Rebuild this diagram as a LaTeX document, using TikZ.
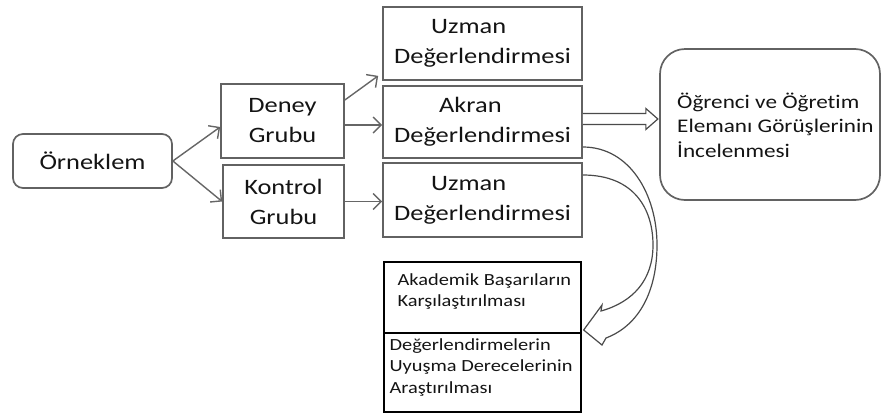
\documentclass[tikz,border=0pt]{standalone}
\usepackage{fontspec}
\setmainfont[FakeStretch=1.2, Ligatures=NoCommon]{Carlito}
\usetikzlibrary{arrows.meta,calc}
\definecolor{boxgray}{HTML}{626262}
\definecolor{arrgray}{HTML}{666666}
\definecolor{curvegray}{HTML}{4A4A4A}
\definecolor{txt}{HTML}{141414}
\begin{document}
\begin{tikzpicture}[x=1pt,y=-1pt,
  box/.style={draw=boxgray, line width=1.7pt, inner sep=0pt, align=center, text=txt,
    font=\fontsize{22}{30}\selectfont},
  lbox/.style={box, align=left},
  thinbox/.style={draw=black, line width=1.3pt, inner sep=0pt},
  smalltext/.style={inner sep=0pt, align=left, text=txt, anchor=north west,
    font=\fontsize{17}{21.5}\selectfont},
  midtext/.style={inner sep=0pt, align=left, text=txt, anchor=west,
    font=\fontsize{19.3}{24.5}\selectfont},
  arr/.style={draw=arrgray, line width=1.4pt, -{Straight Barb[length=8pt,width=16pt,line width=1.4pt]}},
  hollow/.style={draw=curvegray, line width=1.2pt, fill=white, line join=miter}
]
\useasboundingbox (0,0) rectangle (882,416);

% boxes
\node[box, rounded corners=10pt, minimum width=159pt, minimum height=54pt] (orn) at (92.5,161) {Örneklem};
\node[box, minimum width=123pt, minimum height=74pt] (deney) at (282.5,121) {Deney\\Grubu};
\node[box, minimum width=121pt, minimum height=73pt] (kontrol) at (283.5,201.5) {Kontrol\\Grubu};
\node[lbox, minimum width=199pt, minimum height=73pt] (uz1) at (482.5,43.5) {\hspace*{37pt}Uzman\\Değerlendirmesi};
\node[lbox, minimum width=199pt, minimum height=72pt] (akran) at (482.5,122) {\hspace*{45pt}Akran\\Değerlendirmesi};
\node[lbox, minimum width=199pt, minimum height=74pt] (uz2) at (482.5,200) {\hspace*{37pt}Uzman\\Değerlendirmesi};
\node[box, rounded corners=25pt, minimum width=220pt, minimum height=151pt] (ogr) at (770,124.5) {};
\node[midtext] (ogrtext) at (677,125) {Öğrenci ve Öğretim\\Elemanı Görüşlerinin\\İncelenmesi};

\node[thinbox, minimum width=197pt, minimum height=71pt] (bot1) at (482.5,297.5) {};
\node[thinbox, minimum width=197pt, minimum height=79pt] (bot2) at (482.5,372.5) {};
\node[smalltext] (bot1text) at ($(bot1.north west)+(14,12)$) {Akademik Başarıların\\Karşılaştırılması};
\node[smalltext] (bot2text) at ($(bot2.north west)+(6,6)$) {Değerlendirmelerin\\Uyuşma Derecelerinin\\Araştırılması};

% arrows
\draw[arr] (orn.east) -- ($(deney.west)+(0,6)$);
\draw[arr] (orn.east) -- (kontrol.west);
\draw[arr] ($(deney.east)+(0,-21)$) -- ($(uz1.south west)+(-4,-5)$);
\draw[arr] ($(deney.east)+(0,4)$) -- ($(akran.west)+(0,3)$);
\draw[arr] (kontrol.east) -- (kontrol.east -| uz2.west);

% hollow straight arrow
\coordinate (hs) at ($(akran.east)+(0,-3)$);
\draw[hollow] ($(hs)+(0,-5.5)$) -- ($(hs)+(63,-5.5)$) -- ($(hs)+(63,-10.5)$) -- ($(hs)+(75,0)$)
  -- ($(hs)+(63,10.5)$) -- ($(hs)+(63,5.5)$) -- ($(hs)+(0,5.5)$);

% hollow curved arrow
\coordinate (ci) at ($(uz2.east)+(0,-25)$);
\coordinate (co) at ($(akran.east)+(0,25)$);
\coordinate (tip) at ($(bot1.east)+(2,32.5)$);
\draw[hollow, fill=none] (ci) .. controls (635,175) and (653,210) .. (653,245)
  .. controls (653,280) and (633,302) .. (601,311) -- (602,305) -- (tip) -- (602,345) -- (606,338)
  .. controls (640,325) and (657,290) .. (657,245)
  .. controls (657,195) and (630,147) .. (co);
\end{tikzpicture}
\end{document}
